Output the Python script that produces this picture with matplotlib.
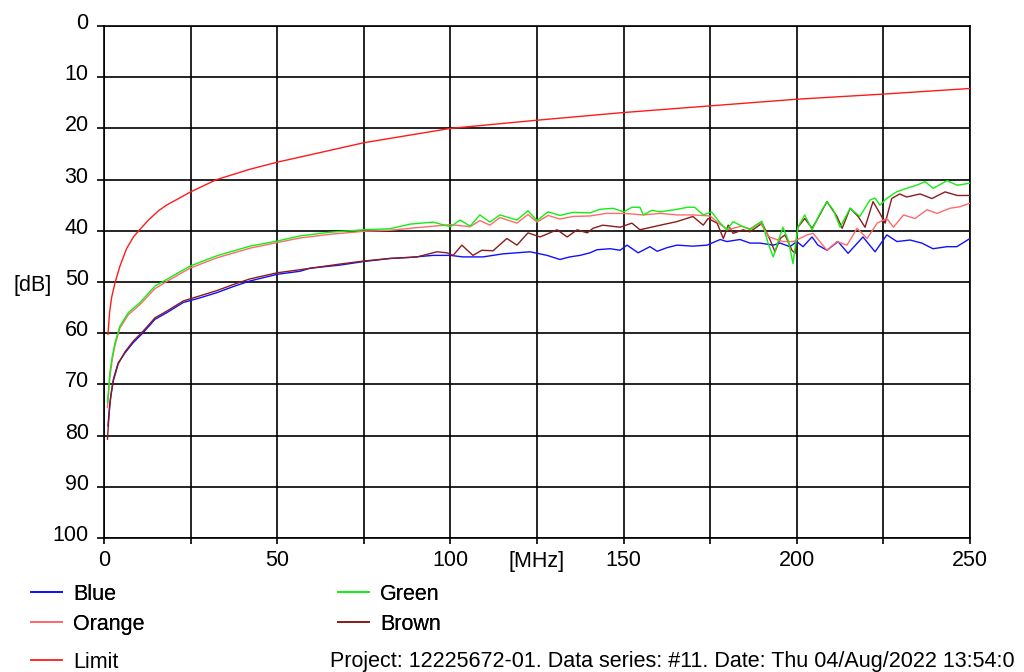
import matplotlib
matplotlib.use("Agg")
import matplotlib.pyplot as plt
from matplotlib.lines import Line2D
from matplotlib.transforms import ScaledTranslation

# ---------------- data ----------------
limit_f = [1.15, 1.6, 2.2, 3.2, 4.6, 6.5, 8.5, 10.4, 13, 15.7, 18, 21, 25, 32.5, 42, 50, 56.6, 75,
           100, 125, 150, 175, 200, 225, 250]
limit_db = [60.2, 56, 53, 50.1, 46.9, 43.5, 41.2, 39.7, 37.8, 36.1, 35, 33.9, 32.4, 30.0, 28.0, 26.6,
            25.6, 22.8, 20.0, 18.4, 16.9, 15.6, 14.3, 13.3, 12.2]

green_f = [1.0, 1.7, 2.4, 3.2, 4.6, 7.0, 10.4, 14.7, 18.1, 24.8, 32.5, 42.1, 50, 56.6, 65, 75, 82.6,
           88.3, 95, 100, 102.8, 105.7, 108.5, 111.4, 114.3, 119.2, 122.4, 125, 128.2, 131.6, 135.4,
           140.3, 143.2, 147, 150, 152.4, 154.7, 155.7, 158.2, 160.6, 165.4, 168.5, 170.5, 173, 175.4,
           177.9, 179.8, 181.6, 184.2, 186.5, 189.9, 191.7, 193.2, 194.6, 196, 197.5, 198.9, 200.3,
           202.3, 204.4, 206.7, 208.7, 210.5, 212.5, 215.4, 218.2, 221.1, 222.6, 224, 225.9, 228.8,
           231.7, 234.6, 237, 239.4, 243.4, 246.3, 250]
green_db = [73.6, 67.7, 64.5, 61.8, 58.6, 56.0, 54.0, 50.8, 49.5, 46.9, 44.9, 43.0, 42.0, 41.0, 40.3,
            39.8, 39.6, 38.7, 38.3, 39.2, 37.9, 39.1, 36.9, 38.3, 36.9, 37.9, 36.1, 38.0, 36.3, 37.0,
            36.4, 36.5, 35.8, 35.6, 36.3, 35.4, 35.4, 36.9, 36.0, 36.3, 35.8, 35.4, 35.4, 36.9, 36.3,
            38.5, 39.8, 38.2, 39.1, 39.8, 38.1, 42.4, 45.1, 42.1, 39.3, 41.8, 46.4, 39.3, 36.9, 39.8,
            36.6, 34.3, 35.9, 39.3, 35.6, 37.2, 34.0, 33.6, 35.0, 33.7, 32.4, 31.7, 31.1, 30.4, 31.7,
            30.2, 31.1, 30.7]

orange_f = [1.0, 1.7, 2.4, 3.2, 4.6, 7.0, 10.4, 14.7, 18.1, 24.8, 32.5, 42.1, 50, 56.6, 65, 75, 82.6,
            90, 100, 105.7, 108.5, 111.4, 114.3, 119.2, 122.4, 125, 128.2, 131.6, 135.4, 140.3, 145,
            150, 155.7, 160.6, 165.4, 170, 175, 177.4, 180, 184, 186.5, 189.4, 192, 196, 199, 203,
            204.7, 208.7, 211.6, 214.5, 217.4, 220.3, 223.2, 226, 227.9, 230.8, 234.1, 237.6, 240.5,
            244.2, 247.1, 250]
orange_db = [74.5, 68.5, 65, 62.3, 59.0, 56.4, 54.4, 51.3, 49.9, 47.3, 45.3, 43.4, 42.3, 41.4, 40.7,
             40.1, 39.9, 39.4, 38.8, 39.2, 38.0, 38.9, 37.4, 38.5, 36.8, 38.3, 37.0, 37.7, 37.2, 37.1,
             36.6, 36.6, 36.9, 36.6, 36.9, 36.9, 37.1, 38.5, 39.8, 39.1, 39.6, 38.4, 41.2, 42.1, 42.1,
             40.8, 40.5, 43.8, 42.1, 42.8, 39.5, 41.5, 38.5, 37.6, 39.3, 36.9, 37.6, 35.9, 36.6, 35.6,
             35.3, 34.6]

brown_f = [1.0, 1.5, 2.0, 2.7, 4.1, 6.1, 8.5, 11.3, 14.7, 18.1, 22.9, 27.7, 32.5, 37.3, 42.1, 50,
           56.6, 68.1, 75, 82.6, 90.4, 96.1, 99, 100.8, 103.3, 106.5, 109.1, 112.3, 116.3, 119.2,
           122.4, 125.9, 130.8, 133.7, 136.6, 139.5, 141.2, 144, 149, 152.4, 154.7, 156.7, 160.6,
           165.4, 170, 173, 174.4, 177, 178.8, 180.2, 181.6, 184.5, 186.5, 190, 192.3, 193.7, 195.2,
           196.6, 198.6, 199.5, 200.3, 202.3, 204.4, 205.8, 208.7, 211.6, 213.1, 215.4, 217.7, 219.7,
           222, 224, 225.5, 227.4, 229.7, 231.7, 235.6, 239, 242.8, 246.3, 250]
brown_db = [80.7, 75.5, 72.0, 69.3, 66.0, 63.6, 61.5, 59.6, 57.0, 55.7, 53.7, 52.7, 51.7, 50.5, 49.4,
            48.2, 47.6, 46.5, 45.9, 45.4, 45.1, 44.1, 44.3, 44.8, 42.8, 44.8, 43.8, 43.9, 41.5, 42.8,
            40.4, 41.2, 39.8, 41.2, 39.8, 40.4, 39.5, 38.9, 39.3, 38.5, 39.8, 39.5, 38.9, 38.2, 37.2,
            38.9, 37.6, 38.5, 41.5, 38.9, 40.5, 39.8, 40.2, 38.5, 41.8, 44.1, 41.5, 40.8, 43.8, 44.4,
            39.3, 37.6, 39.5, 37.9, 34.3, 37.2, 39.5, 35.6, 37.2, 39.3, 34.3, 36.6, 38.5, 33.7, 32.8,
            33.4, 32.8, 33.7, 32.4, 33.1, 33.1]

blue_f = [1.15, 1.7, 2.7, 4.1, 6.1, 8.5, 11.3, 14.7, 18.1, 22.9, 27.7, 32.5, 37.3, 42.1, 50, 56.6,
          59.5, 68.1, 75, 82.6, 88.3, 95, 100, 103.6, 109.4, 115.2, 123, 127.9, 131.6, 134.5, 137.4,
          140.3, 142.3, 146.1, 149, 151, 154.2, 157.6, 159.7, 162.5, 165.4, 170, 174.1, 177.9, 179.8,
          183.6, 186.5, 189.4, 193.2, 195.2, 198, 200, 201.8, 204.4, 206.1, 208.7, 211.9, 214.8,
          219.1, 222.6, 226, 228.9, 232.7, 236.1, 239.3, 243.4, 246.2, 250]
blue_db = [78.1, 73.6, 69.0, 65.8, 63.8, 61.8, 59.9, 57.3, 56.0, 54.0, 53.1, 52.1, 50.9, 49.8, 48.5,
           47.9, 47.3, 46.7, 46.0, 45.4, 45.2, 44.8, 44.8, 45.1, 45.1, 44.5, 44.1, 44.8, 45.6, 45.1,
           44.8, 44.3, 43.7, 43.5, 43.8, 42.8, 44.3, 43.1, 44.0, 43.3, 42.8, 43.0, 42.8, 41.7, 42.1,
           41.7, 42.4, 42.4, 42.8, 42.4, 43.1, 42.1, 43.1, 41.2, 42.8, 43.8, 42.1, 44.4, 41.2, 44.1,
           40.8, 42.1, 41.8, 42.4, 43.5, 43.1, 43.1, 41.5]

x_ticks = [0, 25, 50, 75, 100, 125, 150, 175, 200, 225, 250]
x_tick_labels = ["0", "", "50", "", "100", "[MHz]", "150", "", "200", "", "250"]
y_ticks = [0, 10, 20, 30, 40, 50, 60, 70, 80, 90, 100]
y_tick_labels = [str(v) for v in y_ticks]

series_names = ["Blue", "Orange", "Green", "Brown", "Limit"]
series_colors = {"Blue": "#1010ff", "Orange": "#ff6a6a", "Green": "#10f010",
                 "Brown": "#8b1c1c", "Limit": "#ff1a1a"}
footer = "Project: 12225672-01. Data series: #11. Date: Thu 04/Aug/2022 13:54:0"

# ---------------- figure ----------------
plt.rcParams["font.family"] = ["Liberation Sans", "DejaVu Sans"]
FS = 15.5
W, H = 1024, 672
fig = plt.figure(figsize=(W / 100, H / 100), dpi=100)
fig.patch.set_facecolor("white")
L, R, T, B = 104, 970, 26, 538
ax = fig.add_axes([L / W, 1 - B / H, (R - L) / W, (B - T) / H])

lw = 1.0
ax.plot(limit_f, limit_db, color=series_colors["Limit"], lw=lw, zorder=3)
ax.plot(blue_f, blue_db, color=series_colors["Blue"], lw=lw, zorder=3)
ax.plot(brown_f, brown_db, color=series_colors["Brown"], lw=lw, zorder=3)
ax.plot(orange_f, orange_db, color=series_colors["Orange"], lw=lw, zorder=3)
ax.plot(green_f, green_db, color=series_colors["Green"], lw=lw, zorder=3)

ax.set_xlim(0, 250)
ax.set_ylim(100, 0)
ax.set_xticks(x_ticks)
ax.set_xticklabels(x_tick_labels)
ax.set_yticks(y_ticks)
ax.set_yticklabels(y_tick_labels)
ax.grid(True, color="black", lw=1.2, zorder=1)
for s in ax.spines.values():
    s.set_color("black")
    s.set_linewidth(1.2)
ax.tick_params(axis="x", direction="out", length=4, width=1.2, pad=5, labelsize=FS, colors="black")
ax.tick_params(axis="y", direction="out", length=5, width=1.2, pad=6, labelsize=FS, colors="black")
off = ScaledTranslation(0, 5 / 100, fig.dpi_scale_trans)
for lab in ax.get_yticklabels():
    lab.set_transform(lab.get_transform() + off)

ax.set_ylabel("[dB]", rotation=0, fontsize=FS, ha="right", va="center")
ax.yaxis.set_label_coords(-0.060, 0.493)

# legend
h = {n: Line2D([], [], color=series_colors[n], lw=1.3) for n in series_names}
leg1 = fig.legend([h["Blue"], h["Orange"], h["Green"], h["Brown"]],
                  ["Blue", "Orange", "Green", "Brown"], ncol=2, frameon=False,
                  loc="upper left", bbox_to_anchor=(31 / W, 1 - 584 / H),
                  borderpad=0, borderaxespad=0, handlelength=1.45, handletextpad=0.5,
                  columnspacing=9.0, labelspacing=0.4, fontsize=FS)
fig.add_artist(leg1)
leg2 = fig.legend([h["Limit"]], ["Limit"], frameon=False, loc="upper left",
                  bbox_to_anchor=(31 / W, 1 - 652 / H), borderpad=0, borderaxespad=0,
                  handlelength=1.45, handletextpad=0.5, fontsize=FS)
fig.text(330 / W, 1 - 662 / H, footer, fontsize=FS, ha="left", va="center")

fig.savefig("out.png", dpi=100, facecolor="white")
